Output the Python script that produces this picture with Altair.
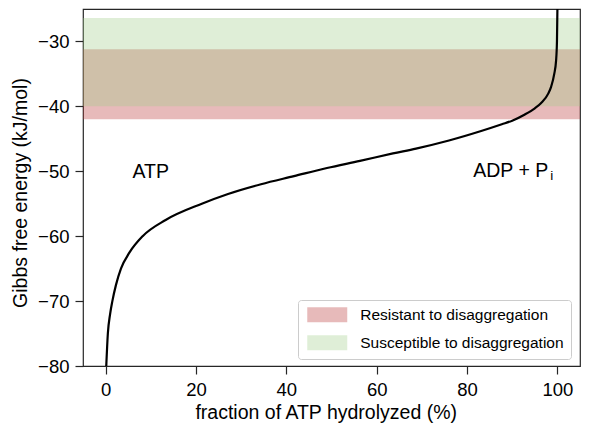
import altair as alt
import pandas as pd

# curve: fraction of ATP hydrolyzed (%) vs Gibbs free energy (kJ/mol)
frac = [0.15, 0.5, 1.0, 1.5, 2.3, 3.4, 5.3, 8.2, 13.3, 21.3, 27.1, 34.4, 41.7, 49.0,
        56.3, 63.6, 68.7, 76.0, 83.3, 87.7, 90.0, 92.8, 95.0, 96.4, 98.0, 98.6,
        99.3, 99.7, 99.9, 100.0]
gibbs = [-80, -75, -72, -70, -67.5, -65, -62.5, -60, -57.5, -55, -53.5, -52.0, -50.75, -49.5,
         -48.4, -47.25, -46.5, -45.25, -43.75, -42.75, -42.2, -41.25, -40.3, -39.5, -38.0, -37.0,
         -35.0, -33.0, -30.0, -25.0]

band_labels = ["Resistant to disaggregation", "Susceptible to disaggregation"]
band_low = [-42.0, -40.0]
band_high = [-31.2, -26.4]
band_colors = ["#b73030", "#9fcc87"]

ann_text = ["ATP", "ADP + P", "i"]
ann_f = [10, 90, 90]
ann_v = [-50, -50, -50]

x_ticks = [0, 20, 40, 60, 80, 100]
y_ticks = [-80, -70, -60, -50, -40, -30]

FONT = "Liberation Sans"
W, H = 497, 357

curve = pd.DataFrame({"f": frac, "g": gibbs})
bands = pd.DataFrame({"label": band_labels, "lo": band_low, "hi": band_high})
ann = pd.DataFrame({"text": ann_text, "f": ann_f, "v": ann_v})

xscale = alt.Scale(domain=[-5, 105], nice=False, zero=False)
yscale = alt.Scale(domain=[-80, -25], nice=False, zero=False)

xaxis = alt.Axis(values=x_ticks, title="fraction of ATP hydrolyzed (%)",
                 titleX=242.7, titleY=52, titleBaseline="alphabetic",
                 labelFlush=False)
yaxis = alt.Axis(values=y_ticks, title="Gibbs free energy (kJ/mol)",
                 titleX=-57, titleY=183.5, titleAngle=270, titleBaseline="alphabetic",
                 titleAlign="center")

band_layer = alt.Chart(bands).mark_rect(opacity=0.333).encode(
    x=alt.value(0), x2=alt.value(W),
    y=alt.Y("lo:Q", scale=yscale, axis=yaxis),
    y2="hi:Q",
    color=alt.Color("label:N",
                    scale=alt.Scale(domain=band_labels, range=band_colors),
                    legend=alt.Legend(title=None, orient="none", legendX=215, legendY=291,
                                      fillColor="white", strokeColor="#cccccc",
                                      cornerRadius=3, padding=7,
                                      labelFont=FONT, labelFontSize=15.5, labelColor="black",
                                      labelLimit=400,
                                      symbolType="M-0.733,-1L4.6,-1L4.6,1L-0.733,1Z",
                                      symbolSize=225, symbolOpacity=0.333, symbolStrokeWidth=0,
                                      labelOffset=39.7, rowPadding=11)),
    order=alt.Order("lo:Q", sort="ascending"),
)

line_layer = alt.Chart(curve).mark_line(color="black", strokeWidth=2.2,
                                        interpolate="monotone", clip=True).encode(
    x=alt.X("f:Q", scale=xscale, axis=xaxis),
    y=alt.Y("g:Q", scale=yscale),
)

atp = alt.Chart(ann).transform_filter(alt.datum.text == "ATP").mark_text(
    font=FONT, fontSize=19.5, align="center", baseline="alphabetic", dy=6.5, color="black"
).encode(x=alt.X("f:Q", scale=xscale), y=alt.Y("v:Q", scale=yscale), text="text:N")

adp = alt.Chart(ann).transform_filter(alt.datum.text == "ADP + P").mark_text(
    font=FONT, fontSize=19.5, align="right", baseline="alphabetic", dx=36, dy=6, color="black"
).encode(x=alt.X("f:Q", scale=xscale), y=alt.Y("v:Q", scale=yscale), text="text:N")

sub = alt.Chart(ann).transform_filter(alt.datum.text == "i").mark_text(
    font=FONT, fontSize=13.5, align="left", baseline="alphabetic", dx=38, dy=9, color="black"
).encode(x=alt.X("f:Q", scale=xscale), y=alt.Y("v:Q", scale=yscale), text="text:N")

chart = alt.layer(band_layer, line_layer, atp, adp, sub).properties(
    width=W, height=H,
    autosize=alt.AutoSizeParams(type="none"),
    padding={"left": 75, "top": 1, "right": 1, "bottom": 57},
).configure_view(
    stroke="#262626", strokeWidth=1.2
).configure_axis(
    domain=False, grid=False,
    labelFont=FONT, labelFontSize=18.5, labelColor="black",
    titleFont=FONT, titleFontSize=19.5, titleFontWeight="normal", titleColor="black",
    tickColor="#262626", tickWidth=1.2, tickSize=8, labelPadding=6,
)

chart.save("out.html", embed_options={"renderer": "svg", "actions": False})
